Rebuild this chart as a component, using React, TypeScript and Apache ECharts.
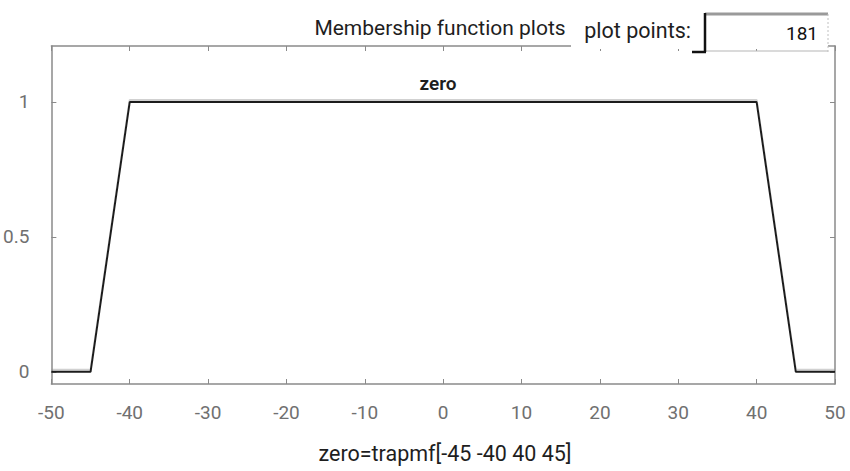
import React, { useEffect, useRef } from "react";
import * as echarts from "echarts";

// Trapezoidal membership function "zero" sampled at its break points
const mfName = "zero";
const mfType = "trapmf";
const mfParams = [-45, -40, 40, 45];
const inputPoints = [-50, -45, -40, 40, 45, 50];
const membership = [0, 0, 1, 1, 0, 0];

// Axis ticks
const xTicks = [-50, -40, -30, -20, -10, 0, 10, 20, 30, 40, 50];
const yTicks = [0, 0.5, 1];
const plotPoints = 181;

const FONT = "Roboto, 'DejaVu Sans', sans-serif";
const AXIS_GRAY = "#8a8a8a";
const LABEL_GRAY = "#707070";

export default function App() {
  const ref = useRef<HTMLDivElement>(null);

  useEffect(() => {
    if (!ref.current) return;
    const chart = echarts.init(ref.current, null, { renderer: "svg" });

    const boxAxis = {
      type: "value" as const,
      axisLine: { show: true, onZero: false, lineStyle: { color: AXIS_GRAY, width: 1.5 } },
      splitLine: { show: false },
    };

    chart.setOption({
      animation: false,
      backgroundColor: "#ffffff",
      grid: { left: 51, top: 46, right: 15, bottom: 87, containLabel: false },
      xAxis: [
        {
          ...boxAxis,
          position: "bottom",
          min: xTicks[0],
          max: xTicks[xTicks.length - 1],
          interval: 10,
          axisTick: { show: true, inside: true, length: 5, lineStyle: { color: AXIS_GRAY } },
          axisLabel: {
            show: true,
            margin: 19,
            color: LABEL_GRAY,
            fontFamily: FONT,
            fontSize: 19,
            customValues: xTicks,
          },
        },
        {
          ...boxAxis,
          position: "top",
          min: xTicks[0],
          max: xTicks[xTicks.length - 1],
          interval: 10,
          axisTick: { show: true, inside: true, length: 5, lineStyle: { color: AXIS_GRAY } },
          axisLabel: { show: false },
        },
      ],
      yAxis: [
        {
          ...boxAxis,
          position: "left",
          min: -0.045,
          max: 1.207,
          axisTick: {
            show: true,
            inside: true,
            length: 5,
            customValues: yTicks,
            lineStyle: { color: AXIS_GRAY },
          },
          axisLabel: {
            show: true,
            margin: 22,
            color: LABEL_GRAY,
            fontFamily: FONT,
            fontSize: 19,
            customValues: yTicks,
            formatter: (v: number) => String(v),
          },
        },
        {
          ...boxAxis,
          position: "right",
          min: -0.045,
          max: 1.207,
          axisTick: {
            show: true,
            inside: true,
            length: 5,
            customValues: yTicks,
            lineStyle: { color: AXIS_GRAY },
          },
          axisLabel: { show: false },
        },
      ],
      series: [
        {
          type: "line",
          xAxisIndex: 0,
          yAxisIndex: 0,
          data: inputPoints.map((x, i) => [x, membership[i]]),
          showSymbol: false,
          lineStyle: {
            color: "#1c1c1c",
            width: 2,
            shadowColor: "rgba(140,140,140,0.4)",
            shadowBlur: 0,
            shadowOffsetY: -2,
          },
          silent: true,
        },
      ],
      graphic: [
        // panel hiding the right part of the top frame line
        {
          type: "rect",
          shape: { x: 571, y: 0, width: 257, height: 49 },
          style: { fill: "#ffffff" },
          z: 10,
        },
        {
          type: "text",
          x: 440,
          y: 28,
          style: {
            text: "Membership function plots",
            font: `21px ${FONT}`,
            fill: "#1e1e1e",
            align: "center",
            verticalAlign: "middle",
          },
          z: 11,
        },
        {
          type: "text",
          x: 691,
          y: 30,
          style: {
            text: "plot points:",
            font: `21.5px ${FONT}`,
            fill: "#1e1e1e",
            align: "right",
            verticalAlign: "middle",
          },
          z: 11,
        },
        // sunken edit box
        {
          type: "line",
          shape: { x1: 705, y1: 14, x2: 828, y2: 14 },
          style: { stroke: "#9a9a9a", lineWidth: 3 },
          z: 11,
        },
        {
          type: "line",
          shape: { x1: 705, y1: 13, x2: 705, y2: 52 },
          style: { stroke: "#111111", lineWidth: 2.5 },
          z: 12,
        },
        {
          type: "line",
          shape: { x1: 692, y1: 52, x2: 706, y2: 52 },
          style: { stroke: "#111111", lineWidth: 2.5 },
          z: 12,
        },
        {
          type: "line",
          shape: { x1: 706, y1: 51, x2: 828, y2: 51 },
          style: { stroke: "#b5b5b5", lineWidth: 1 },
          z: 11,
        },
        {
          type: "line",
          shape: { x1: 828, y1: 14, x2: 828, y2: 52 },
          style: { stroke: "#c0c0c0", lineWidth: 1, lineDash: [2, 2] },
          z: 11,
        },
        {
          type: "text",
          x: 818,
          y: 33,
          style: {
            text: String(plotPoints),
            font: `19px ${FONT}`,
            fill: "#111111",
            align: "right",
            verticalAlign: "middle",
          },
          z: 12,
        },
        // membership function name above its plateau
        {
          type: "text",
          x: 438,
          y: 83,
          style: {
            text: mfName,
            font: `600 19px ${FONT}`,
            fill: "#1e1e1e",
            align: "center",
            verticalAlign: "middle",
          },
          z: 11,
        },
        {
          type: "text",
          x: 445,
          y: 453,
          style: {
            text: `${mfName}=${mfType}[${mfParams.join(" ")}]`,
            font: `21.5px ${FONT}`,
            fill: "#1e1e1e",
            align: "center",
            verticalAlign: "middle",
          },
          z: 11,
        },
      ],
    });

    return () => chart.dispose();
  }, []);

  return (
    <div
      ref={ref}
      style={{ position: "fixed", left: 0, top: 0, width: 850, height: 471, background: "#fff" }}
    />
  );
}
